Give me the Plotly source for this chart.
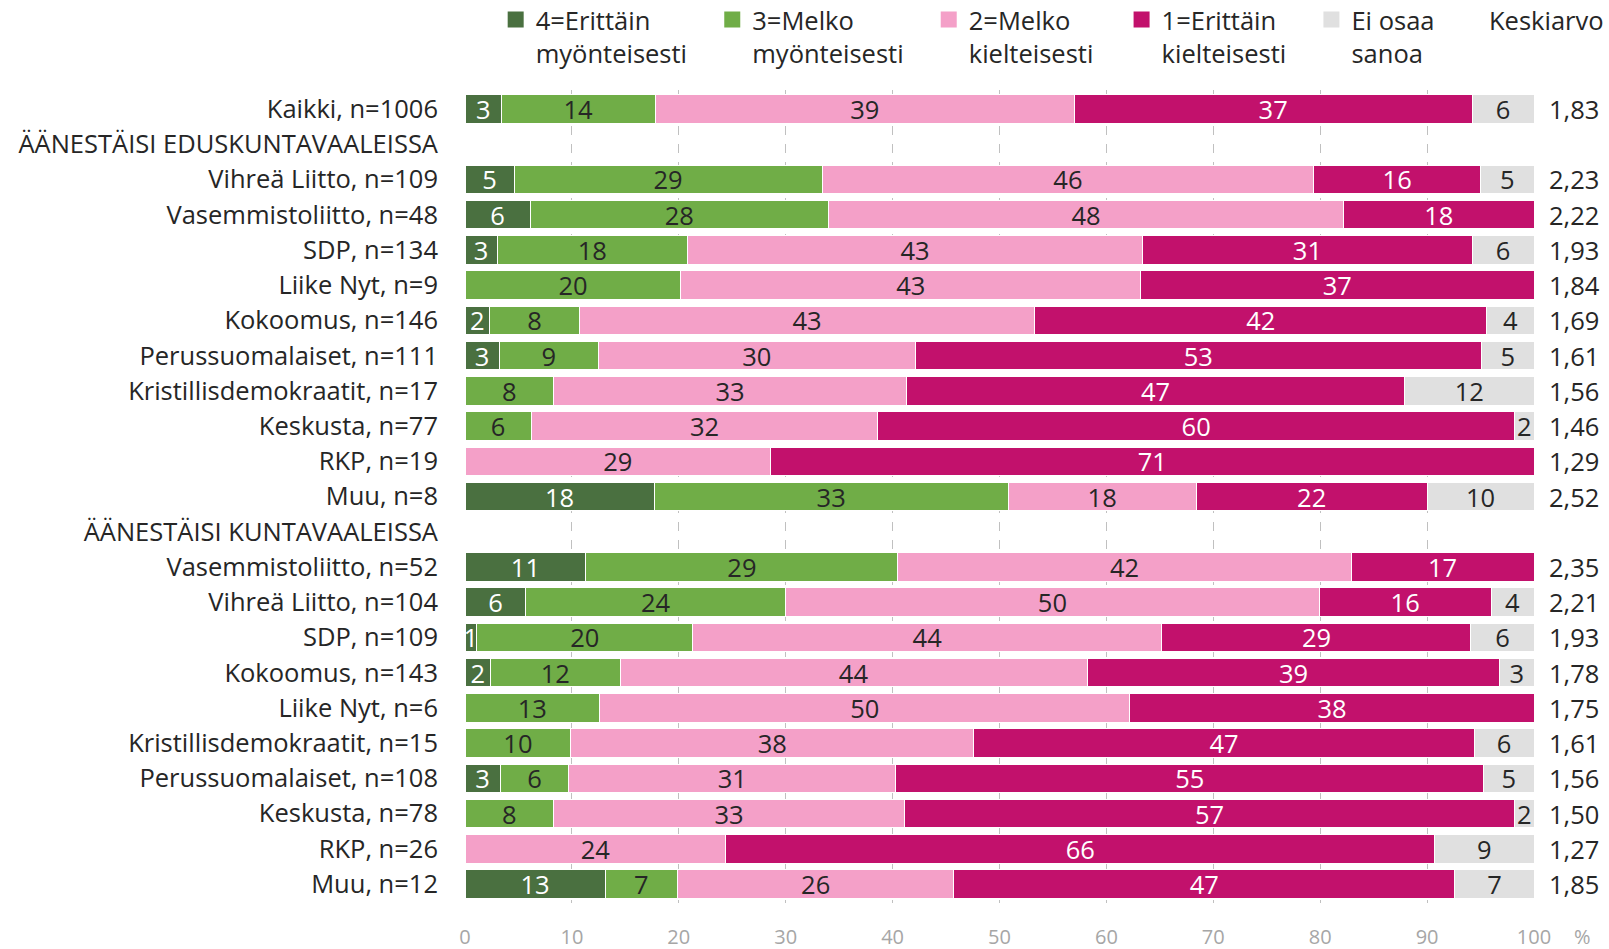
import plotly.graph_objects as go

categories = [
    "Kaikki, n=1006",
    "ÄÄNESTÄISI EDUSKUNTAVAALEISSA",
    "Vihreä Liitto, n=109",
    "Vasemmistoliitto, n=48",
    "SDP, n=134",
    "Liike Nyt, n=9",
    "Kokoomus, n=146",
    "Perussuomalaiset, n=111",
    "Kristillisdemokraatit, n=17",
    "Keskusta, n=77",
    "RKP, n=19",
    "Muu, n=8",
    "ÄÄNESTÄISI KUNTAVAALEISSA",
    "Vasemmistoliitto, n=52",
    "Vihreä Liitto, n=104",
    "SDP, n=109",
    "Kokoomus, n=143",
    "Liike Nyt, n=6",
    "Kristillisdemokraatit, n=15",
    "Perussuomalaiset, n=108",
    "Keskusta, n=78",
    "RKP, n=26",
    "Muu, n=12",
]

erittain_myont = [3.4, None, 4.6, 6.1, 3.0, 0, 2.3, 3.2, 0, 0, 0, 17.7, None,
                  11.3, 5.7, 1.1, 2.4, 0, 0, 3.3, 0, 0, 13.1]
melko_myont = [14.4, None, 28.8, 27.9, 17.8, 20.2, 8.4, 9.3, 8.3, 6.2, 0, 33.1, None,
               29.2, 24.3, 20.2, 12.1, 12.6, 9.9, 6.4, 8.3, 0, 6.8]
melko_kielt = [39.2, None, 46.0, 48.2, 42.6, 43.0, 42.6, 29.6, 33.0, 32.4, 28.6, 17.6, None,
               42.4, 49.9, 43.9, 43.7, 49.6, 37.7, 30.6, 32.8, 24.4, 25.8]
erittain_kielt = [37.2, None, 15.6, 17.8, 30.8, 36.8, 42.3, 53.0, 46.6, 59.6, 71.4, 21.6, None,
                  17.1, 16.1, 28.9, 38.6, 37.8, 46.8, 55.0, 57.1, 66.3, 46.9]
ei_osaa = [5.8, None, 5.0, 0, 5.8, 0, 4.4, 4.9, 12.1, 1.8, 0, 10.0, None,
           0, 4.0, 5.9, 3.2, 0, 5.6, 4.7, 1.8, 9.3, 7.4]

keskiarvo = ["1,83", "", "2,23", "2,22", "1,93", "1,84", "1,69", "1,61", "1,56", "1,46", "1,29", "2,52", "",
             "2,35", "2,21", "1,93", "1,78", "1,75", "1,61", "1,56", "1,50", "1,27", "1,85"]

series_names = ["4=Erittäin<br>myönteisesti", "3=Melko<br>myönteisesti",
                "2=Melko<br>kielteisesti", "1=Erittäin<br>kielteisesti", "Ei osaa<br>sanoa"]
series_values = [erittain_myont, melko_myont, melko_kielt, erittain_kielt, ei_osaa]
colors = ["#4a7040", "#70ad47", "#f4a0c8", "#c2116c", "#e0e0e0"]
text_colors = ["#ffffff", "#262626", "#262626", "#ffffff", "#262626"]
legend_ids = ["legend", "legend2", "legend3", "legend4", "legend5"]
legend_x = [0.0287, 0.2313, 0.4338, 0.6142, 0.7918]

FONT = "Open Sans, Lato, DejaVu Sans, sans-serif"
FS = 25.5

fig = go.Figure()
for name, vals, col, tcol, lid in zip(series_names, series_values, colors, text_colors, legend_ids):
    txt = [("" if (v is None or v == 0) else f"{v:.0f}") for v in vals]
    fig.add_trace(go.Bar(
        y=categories, x=vals, name=name, orientation="h",
        marker=dict(color=col, line=dict(color="#ffffff", width=1)),
        text=txt, textposition="inside", insidetextanchor="middle",
        textangle=0, constraintext="none",
        textfont=dict(color=tcol, size=FS, family=FONT),
        hoverinfo="skip", showlegend=False,
    ))
    # legend entry with a larger square symbol
    fig.add_trace(go.Scatter(
        x=[None], y=[None], mode="markers", name=name, legend=lid,
        marker=dict(symbol="square", size=16, color=col),
        hoverinfo="skip", showlegend=True,
    ))

for cat, m in zip(categories, keskiarvo):
    if m:
        fig.add_annotation(x=1.012, xref="paper", y=cat, yref="y", text=m,
                           showarrow=False, xanchor="left", yanchor="middle",
                           font=dict(size=FS, color="#262626", family=FONT))

fig.add_annotation(x=1.0, xref="paper", xshift=72, y=1 + (90 - 20) / 813, yref="paper",
                   text="Keskiarvo", showarrow=False, xanchor="right", yanchor="middle",
                   font=dict(size=FS, color="#262626", family=FONT))
fig.add_annotation(x=1.0, xref="paper", xshift=38, y=-0.0415, yref="paper", text="%",
                   showarrow=False, xanchor="left", yanchor="middle",
                   font=dict(size=20, color="#a6a6a6", family=FONT))

legend_common = dict(orientation="h", y=1 + (90 + 3.5) / 813, xref="paper", yref="paper",
                     xanchor="left", yanchor="top", valign="top",
                     font=dict(size=FS, color="#262626", family=FONT),
                     bgcolor="rgba(0,0,0,0)")

fig.update_layout(
    width=1609, height=949,
    barmode="stack", bargap=0.19,
    plot_bgcolor="#ffffff", paper_bgcolor="#ffffff",
    margin=dict(l=465, r=75, t=90, b=46, autoexpand=False),
    font=dict(family=FONT, color="#262626"),
    xaxis=dict(range=[0, 100], dtick=10, showgrid=True, gridcolor="#c0c0c0",
               griddash="dash", gridwidth=1, zeroline=False, showline=False,
               tickfont=dict(size=20, color="#a6a6a6", family=FONT),
               ticklabelstandoff=20, fixedrange=True, automargin=False),
    yaxis=dict(categoryorder="array", categoryarray=categories, autorange="reversed",
               showgrid=False, zeroline=False, showline=False, ticks="",
               tickfont=dict(size=FS, color="#262626", family=FONT),
               ticklabelstandoff=26, automargin=False),
    showlegend=True,
)
for lid, lx in zip(legend_ids, legend_x):
    fig.update_layout({lid: dict(x=lx, **legend_common)})

fig.write_html("out.html", config={"displayModeBar": False},
               post_script="document.body.style.margin='0';")
